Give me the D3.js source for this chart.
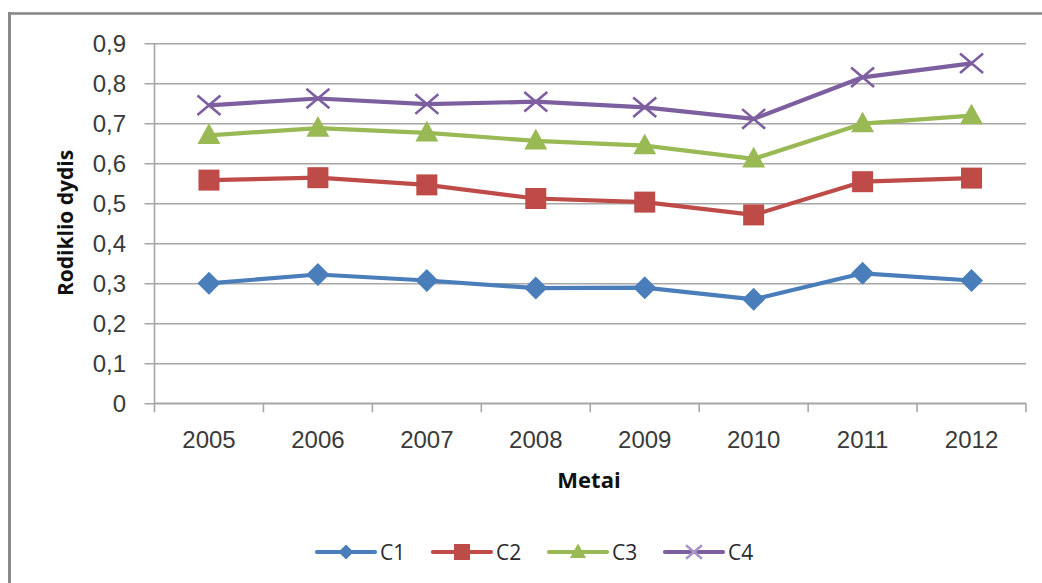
<!DOCTYPE html>
<html>
<head>
<meta charset="utf-8">
<script src="https://cdn.jsdelivr.net/npm/d3@7"></script>
<style>
  html, body { margin: 0; padding: 0; background: #fff; }
  svg { display: block; font-family: "Open Sans", "Noto Sans", sans-serif; }
</style>
</head>
<body>
<svg id="chart" width="1042" height="583"></svg>
<script>
// Years on the category axis
const years = ["2005", "2006", "2007", "2008", "2009", "2010", "2011", "2012"];
// Indicator values per series
const c1 = [0.300, 0.322, 0.307, 0.288, 0.289, 0.260, 0.325, 0.307];
const c2 = [0.558, 0.564, 0.546, 0.512, 0.503, 0.471, 0.554, 0.563];
const c3 = [0.670, 0.688, 0.676, 0.656, 0.644, 0.611, 0.699, 0.719];
const c4 = [0.745, 0.762, 0.748, 0.754, 0.740, 0.711, 0.815, 0.850];
const seriesNames = ["C1", "C2", "C3", "C4"];
const yTicks = [0, 0.1, 0.2, 0.3, 0.4, 0.5, 0.6, 0.7, 0.8, 0.9];

const series = [
  { name: seriesNames[0], values: c1, color: "#4a7ebb", marker: "diamond" },
  { name: seriesNames[1], values: c2, color: "#be4b48", marker: "square" },
  { name: seriesNames[2], values: c3, color: "#98b954", marker: "triangle" },
  { name: seriesNames[3], values: c4, color: "#7d5fa0", marker: "cross" }
];

const svg = d3.select("#chart");

// Outer chart frame (top and left edges)
svg.append("line").attr("x1", 9).attr("x2", 1042).attr("y1", 13.5).attr("y2", 13.5)
  .attr("stroke", "#858585").attr("stroke-width", 2.5);
svg.append("line").attr("x1", 9.5).attr("x2", 9.5).attr("y1", 12).attr("y2", 583)
  .attr("stroke", "#8a8a8a").attr("stroke-width", 3);

const plot = { left: 154.5, right: 1026, top: 43.3, bottom: 403.3 };

const x = d3.scaleBand().domain(years).range([plot.left, plot.right]).paddingInner(0).paddingOuter(0);
const cx = d => x(d) + x.bandwidth() / 2;
const y = d3.scaleLinear().domain([0, 0.9]).range([plot.bottom, plot.top]);

const fmt = v => d3.format(".1f")(v).replace(".", ",");

// Horizontal gridlines with tick extensions
const yAxis = d3.axisLeft(y).tickValues(yTicks).tickSize(plot.right - plot.left + 10)
  .tickFormat(v => (v === 0 ? "0" : fmt(v)));
const gy = svg.append("g").attr("transform", `translate(${plot.right},0)`).call(yAxis);
gy.select(".domain").remove();
gy.selectAll(".tick line").attr("stroke", "#a6a6a6").attr("stroke-width", 1.6);
gy.selectAll(".tick text")
  .attr("x", -(plot.right - 126))
  .attr("dy", "0.36em")
  .attr("fill", "#3a3a3a")
  .style("font-size", "24px");

// Vertical value axis line
svg.append("line").attr("x1", plot.left).attr("x2", plot.left)
  .attr("y1", plot.top).attr("y2", plot.bottom)
  .attr("stroke", "#a6a6a6").attr("stroke-width", 1.6);

// Category axis: labels centered, tick marks between categories
const xAxis = d3.axisBottom(x).tickSize(0).tickPadding(0);
const gx = svg.append("g").attr("transform", `translate(0,${plot.bottom})`).call(xAxis);
gx.select(".domain").remove();
gx.selectAll(".tick text").attr("y", 45).attr("dy", 0)
  .attr("fill", "#3a3a3a").style("font-size", "24px");
const boundaries = years.map(d => x(d)).concat([plot.right]);
svg.append("g").selectAll("line").data(boundaries).join("line")
  .attr("x1", d => d).attr("x2", d => d)
  .attr("y1", plot.bottom).attr("y2", plot.bottom + 9)
  .attr("stroke", "#a6a6a6").attr("stroke-width", 1.6);
svg.append("line").attr("x1", plot.left).attr("x2", plot.right)
  .attr("y1", plot.bottom).attr("y2", plot.bottom)
  .attr("stroke", "#a6a6a6").attr("stroke-width", 1.6);

// Axis titles
svg.append("text").attr("x", 589).attr("y", 488).attr("text-anchor", "middle")
  .attr("font-weight", "bold").style("font-size", "22px").attr("fill", "#111")
  .text("Metai");
svg.append("text").attr("transform", "translate(73,223) rotate(-90)")
  .attr("text-anchor", "middle").attr("font-weight", "bold")
  .style("font-size", "21px").attr("fill", "#111").text("Rodiklio dydis");

// Marker drawing
function drawMarker(g, kind, color, s) {
  if (kind === "diamond") {
    g.append("path").attr("d", `M0,${-s}L${s},0L0,${s}L${-s},0Z`).attr("fill", color);
  } else if (kind === "square") {
    g.append("rect").attr("x", -s).attr("y", -s).attr("width", 2 * s).attr("height", 2 * s)
      .attr("fill", color);
  } else if (kind === "triangle") {
    g.append("path").attr("d", `M0,${-s * 1.05}L${s},${s * 0.75}L${-s},${s * 0.75}Z`).attr("fill", color);
  } else {
    g.append("path").attr("d", `M${-s},${-s * 0.85}L${s},${s * 0.85}M${-s},${s * 0.85}L${s},${-s * 0.85}`)
      .attr("stroke", color).attr("stroke-width", 2.6).attr("fill", "none");
  }
}

const line = d3.line().x((d, i) => cx(years[i])).y(d => y(d));

series.forEach(s => {
  const g = svg.append("g");
  g.append("path").datum(s.values).attr("d", line)
    .attr("fill", "none").attr("stroke", s.color).attr("stroke-width", 4.2)
    .attr("stroke-linejoin", "round");
  s.values.forEach((v, i) => {
    const m = g.append("g").attr("transform", `translate(${cx(years[i])},${y(v)})`);
    const size = s.marker === "square" ? 10.5 : 11.5;
    drawMarker(m, s.marker, s.color, size);
  });
});

// Legend
const legend = svg.append("g").attr("transform", "translate(317,552)");
series.forEach((s, i) => {
  const g = legend.append("g").attr("transform", `translate(${i * 116},0)`);
  g.append("line").attr("x1", 0).attr("x2", 58).attr("y1", 0).attr("y2", 0)
    .attr("stroke", s.color).attr("stroke-width", 4.2).attr("stroke-linecap", "round");
  const m = g.append("g").attr("transform", "translate(29,0)");
  const size = s.marker === "diamond" ? 7.5 : 8;
  drawMarker(m, s.marker, s.marker === "cross" ? "#a995c8" : s.color, size);
  g.append("text").attr("x", 63).attr("y", 0).attr("dy", "0.36em")
    .attr("fill", "#2a2a2a").style("font-size", "21px").text(s.name);
});
</script>
</body>
</html>
